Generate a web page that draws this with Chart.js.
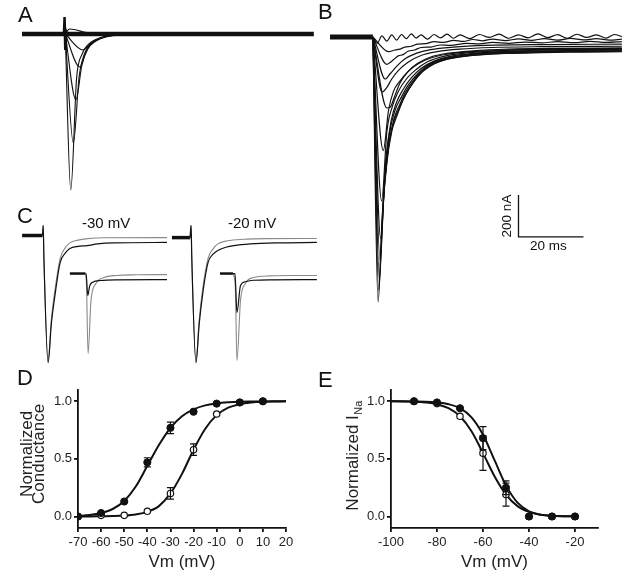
<!DOCTYPE html>
<html>
<head>
<meta charset="utf-8">
<script src="https://cdn.jsdelivr.net/npm/chart.js@4.4.1/dist/chart.umd.min.js"></script>
<style>
  body { margin: 0; background: #fff; }
  #fig { position: relative; width: 629px; height: 580px; overflow: hidden;
         font-family: "Liberation Sans", Arial, sans-serif; color: #111; }
  #fig canvas { position: absolute; }
  .tag { position: absolute; font-size: 22px; line-height: 22px; }
  .note { position: absolute; font-size: 15px; line-height: 15px; white-space: nowrap; }
  .bar { position: absolute; font-size: 13.5px; line-height: 14px; white-space: nowrap; }
</style>
</head>
<body>
<div id="fig">
  <canvas id="chartA" width="292" height="190" style="left:22px;top:8px"></canvas>
  <canvas id="chartB" width="299" height="310" style="left:330px;top:0px"></canvas>
  <canvas id="chartC" width="325" height="145" style="left:0px;top:225px"></canvas>
  <canvas id="chartD" width="310" height="200" style="left:0px;top:380px"></canvas>
  <canvas id="chartE" width="319" height="200" style="left:310px;top:380px"></canvas>

  <div class="tag" style="left:18px;top:4px">A</div>
  <div class="tag" style="left:318px;top:1px">B</div>
  <div class="tag" style="left:17px;top:205px">C</div>
  <div class="tag" style="left:17px;top:367px">D</div>
  <div class="tag" style="left:318px;top:369px">E</div>

  <div class="note" style="left:82px;top:215px">-30 mV</div>
  <div class="note" style="left:228px;top:215px">-20 mV</div>

  <div class="bar" style="left:482px;top:209px;width:50px;text-align:center;transform:rotate(-90deg)">200 nA</div>
  <div class="bar" style="left:530px;top:239px">20 ms</div>
</div>

<script>
// ---- A: current traces (ms, nA) ----
const aBaseline = [[0, 0], [89.8, 0]];
const aArtifact = [[12.9, 0], [13.1, 81], [13.3, -70], [13.5, 15], [13.8, 0]];
const aTraces = [
    [[13.3, 0], [15.0, -743], [16.8, -210], [18.5, -95], [20.5, -48], [24, -18], [30, -4], [40, 0]],
    [[13.3, 0], [15.8, -519], [17.6, -200], [19.2, -95], [21.2, -45], [25, -15], [31, -3], [40, 0]],
    [[13.3, 0], [16.6, -314], [18.4, -150], [20.2, -72], [22.5, -36], [26, -12], [32, -2], [40, 0]],
    [[13.3, 0], [17.8, -157], [19.6, -85], [21.6, -42], [24.5, -18], [29, -5], [36, 0]],
    [[13.3, 0], [18.8, -76], [20.8, -50], [23, -28], [27, -10], [33, 0]],
    [[13.3, 0], [14.6, 24], [16.5, 20], [19, 10], [22, 3], [27, 0]]
];

// ---- B: current traces (ms, nA) ----
const bBaseline = [[0, 0], [13.2, 0]];
const bTraces = [
    [[13.2, 0], [14.8, -1262], [16, -880], [17.5, -600], [19, -450], [20.6, -375], [22.5, -300], [24.6, -240], [27.7, -175], [31, -135], [35, -110], [40, -95], [47, -84], [55, -78], [65, -74], [78, -72], [89.8, -70]],
    [[13.2, 0], [15.0, -1205], [16.2, -820], [17.7, -560], [19.3, -420], [21, -350], [23, -280], [25.5, -220], [28.5, -165], [32, -128], [36, -105], [42, -90], [50, -80], [60, -74], [75, -70], [89.8, -68]],
    [[13.2, 0], [15.2, -1150], [16.5, -760], [18, -520], [19.7, -390], [21.5, -320], [23.5, -255], [26, -200], [29, -150], [33, -115], [38, -95], [45, -82], [55, -74], [70, -68], [89.8, -66]],
    [[13.2, 0], [15.4, -1060], [16.8, -680], [18.3, -460], [20, -350], [22, -285], [24, -230], [27, -175], [30, -135], [34, -108], [40, -88], [48, -76], [60, -68], [75, -64], [89.8, -62]],
    [[13.2, 0], [15.6, -960], [17.2, -580], [18.8, -400], [20.5, -310], [22.5, -250], [25, -195], [28, -150], [32, -115], [37, -92], [44, -78], [55, -68], [70, -62], [89.8, -60]],
    [[13.2, 0], [15.9, -780], [17.5, -450], [19.2, -330], [21, -260], [23.5, -200], [26.5, -155], [30, -118], [35, -92], [42, -76], [52, -66], [68, -60], [89.8, -57]],
    [[13.2, 0], [16.4, -540], [18, -350], [19.5, -260], [21.5, -210], [24, -165], [27, -128], [31, -100], [36, -82], [44, -70], [55, -62], [70, -57], [89.8, -55]],
    [[13.2, 0], [17.5, -338], [18.5, -335], [19.7, -290], [21.5, -220], [24, -165], [27, -125], [31, -95], [36, -78], [44, -66], [55, -58], [70, -54], [89.8, -52]],
    [[13.2, 0], [16, -262], [17.5, -240], [19, -200], [21, -160], [24, -120], [28, -88], [33, -70], [40, -58], [50, -50], [65, -46], [89.8, -44]],
    [[13.2, 0], [17, -200], [18.5, -175], [20.5, -140], [23, -105], [26.5, -78], [31, -60], [38, -48], [48, -40], [65, -36], [89.8, -34]],
    [[13.2, 0], [17.5, -130], [19, -115], [21, -90], [22.5, -84], [24, -68], [26, -62], [28, -50], [31, -48], [34, -38], [37, -40], [42, -30], [46, -33], [50, -26], [55, -30], [60, -24], [65, -28], [70, -22], [75, -27], [80, -21], [85, -26], [89.8, -22]],
    [[13.2, 0], [18, -70], [20, -62], [21.5, -58], [23, -48], [25, -44], [27, -34], [29.5, -32], [32, -22], [35, -26], [38, -16], [41, -21], [44, -12], [47, -18], [50, -10], [54, -17], [58, -9], [62, -16], [66, -8], [70, -15], [74, -7], [78, -14], [82, -8], [86, -15], [89.8, -10]],
    [[13.2, 0], [14.5, -30], [16, 5], [17.5, -20], [19, 10], [20.5, -15], [22, 12], [23.5, -8], [25, 15], [26.5, -5], [28, 10], [30, -10], [32, 12], [34, -4], [36, 14], [38, -6], [40, 10], [43, -8], [46, 12], [49, -2], [52, 14], [55, -6], [58, 10], [61, -4], [64, 15], [67, -3], [70, 11], [73, -6], [76, 13], [79, -2], [82, 10], [85, -5], [87.5, 12], [89.8, 2]]
];
// scale bar: 20 ms x 200 nA, corner at (58 ms, -952 nA)
const barMs = 20, barNa = 200, barCorner = [58, -952];

// ---- C: superimposed traces at -30 and -20 mV (ms, nA) ----
const cBaselines = [
    [[6.8, 0], [13.1, 0]],
    [[52.9, -10], [58.5, -10]]
];
const cInsetBaselines = [
    [[21.5, -181], [26.3, -181]],
    [[67.7, -181], [71.7, -181]]
];
const cBlack = [
    [[13.1, 0], [13.3, 48], [13.5, -100], [14.8, -605], [15.8, -420], [16.9, -286], [18.5, -129], [20, -85], [21.5, -62], [24, -52], [26.8, -48], [30, -40], [35, -35], [51.4, -33]],
    [[58.5, -10], [58.8, 48], [59.0, -100], [60.3, -605], [61.3, -420], [62.5, -262], [64, -129], [65.5, -90], [67, -71], [69.5, -56], [72, -48], [77, -40], [85, -35], [97.5, -33]],
    [[26.3, -181], [26.5, -181], [27.0, -286], [27.6, -240], [28.5, -222], [31, -214], [36, -211], [51.4, -210]],
    [[71.7, -181], [72.3, -181], [72.9, -367], [74, -238], [75.5, -220], [78, -213], [84, -211], [97.5, -210]]
];
const cGray = [
    [[13.1, 0], [13.3, 48], [13.5, -100], [14.8, -600], [15.8, -400], [16.9, -260], [18.5, -110], [20, -60], [21.5, -35], [24, -22], [27, -15], [32, -11], [51.4, -10]],
    [[58.5, -10], [58.8, 48], [59.0, -100], [60.3, -600], [61.3, -400], [62.5, -240], [64, -110], [65.5, -65], [67, -40], [70, -25], [75, -18], [82, -15], [97.5, -14]],
    [[26.3, -181], [26.6, -230], [27.1, -562], [28, -310], [29.5, -228], [32, -200], [36, -190], [42, -187], [51.4, -186]],
    [[71.7, -181], [72.4, -240], [72.9, -595], [74, -310], [75.5, -229], [78, -200], [83, -192], [90, -190], [97.5, -190]]
];

// ---- D: conductance-voltage ----
const dVm = [-70, -60, -50, -40, -30, -20, -10, 0, 10];
const dFilled = [0.0, 0.03, 0.13, 0.47, 0.77, 0.91, 0.98, 0.99, 1.0];
const dFilledErr = [0, 0.01, 0.03, 0.04, 0.05, 0.02, 0.01, 0.01, 0.01];
const dOpen = [0.0, 0.01, 0.01, 0.045, 0.2, 0.58, 0.89, 0.99, 1.0];
const dOpenErr = [0, 0, 0, 0.01, 0.05, 0.05, 0.03, 0.01, 0.01];
const dFitVm = [-70, -65, -60, -55, -50, -45, -40, -35, -30, -25, -20, -15, -10, -5, 0, 5, 10, 15, 20];
const dFitFilled = [0.005, 0.012, 0.03, 0.065, 0.135, 0.26, 0.44, 0.62, 0.77, 0.87, 0.93, 0.965, 0.982, 0.991, 0.996, 0.998, 0.999, 1.0, 1.0];
const dFitOpen = [0.0, 0.0, 0.002, 0.004, 0.008, 0.018, 0.04, 0.09, 0.2, 0.37, 0.58, 0.76, 0.88, 0.945, 0.975, 0.99, 0.996, 0.998, 1.0];
const dXTicks = [-70, -60, -50, -40, -30, -20, -10, 0, 10, 20];

// ---- E: steady-state inactivation ----
const eVm = [-90, -80, -70, -60, -50, -40, -30, -20];
const eFilled = [1.0, 0.99, 0.94, 0.68, 0.25, 0.0, 0.0, 0.0];
const eFilledErr = [0, 0.01, 0.02, 0.1, 0.06, 0, 0, 0];
const eOpen = [1.0, 0.98, 0.87, 0.55, 0.19, 0.0, 0.0, 0.0];
const eOpenErr = [0, 0.01, 0.02, 0.15, 0.1, 0, 0, 0];
const eFitVm = [-100, -95, -90, -85, -80, -75, -70, -65, -60, -55, -50, -45, -40, -35, -30, -25, -20];
const eFitFilled = [1.0, 1.0, 0.999, 0.997, 0.99, 0.975, 0.94, 0.86, 0.71, 0.49, 0.27, 0.12, 0.045, 0.016, 0.006, 0.002, 0.001];
const eFitOpen = [1.0, 0.999, 0.997, 0.99, 0.975, 0.94, 0.87, 0.74, 0.55, 0.35, 0.19, 0.09, 0.04, 0.015, 0.006, 0.002, 0.001];
const eXTicks = [-100, -80, -60, -40, -20];

const yTicks = [0, 0.5, 1.0];

Chart.defaults.font.family = '"Liberation Sans", Arial, sans-serif';
Chart.defaults.color = '#222';

function toXY(pairs) {
    return pairs.map(p => ({ x: p[0], y: p[1] }));
}

function trace(pairs, color, width) {
    return {
        data: toXY(pairs),
        borderColor: color,
        borderWidth: width,
        pointRadius: 0,
        fill: false,
        cubicInterpolationMode: 'monotone'
    };
}

// trace panels have no visible axes
function traceChart(id, datasets, xMax, yMin, yMax) {
    return new Chart(document.getElementById(id), {
        type: 'line',
        data: { datasets: datasets },
        options: {
            responsive: false,
            animation: false,
            layout: { padding: 0 },
            plugins: { legend: { display: false }, tooltip: { enabled: false } },
            scales: {
                x: { type: 'linear', display: false, min: 0, max: xMax },
                y: { display: false, min: yMin, max: yMax }
            }
        }
    });
}

// Panel A
const aSets = aTraces.map(t => trace(t, '#111', 1.1));
aSets.push(trace(aBaseline, '#111', 4.5));
aSets.push(Object.assign(trace(aArtifact, '#111', 2.5), { cubicInterpolationMode: 'default', tension: 0 }));
traceChart('chartA', aSets, 89.85, -781, 124);

// Panel B
const bSets = bTraces.map(t => trace(t, '#111', 1.2));
bSets.push(trace(bBaseline, '#111', 5));
bSets.push({
    data: [
        { x: barCorner[0], y: barCorner[1] + barNa },
        { x: barCorner[0], y: barCorner[1] },
        { x: barCorner[0] + barMs, y: barCorner[1] }
    ],
    borderColor: '#111',
    borderWidth: 1.3,
    pointRadius: 0,
    tension: 0
});
traceChart('chartB', bSets, 92, -1300, 176.2);

// Panel C
const cSets = [];
cBlack.forEach(t => cSets.push(trace(t, '#111', 1.2)));
cGray.forEach(t => cSets.push(trace(t, '#8a8a8a', 1.1)));
cBaselines.forEach(t => cSets.push(trace(t, '#111', 3.5)));
cInsetBaselines.forEach(t => cSets.push(trace(t, '#111', 2.5)));
traceChart('chartC', cSets, 100, -640, 50);

// error bars for D and E, drawn through the chart scales
const errorBarPlugin = {
    id: 'errorBars',
    afterDatasetsDraw(chart) {
        const ctx = chart.ctx, xs = chart.scales.x, ys = chart.scales.y;
        ctx.save();
        ctx.strokeStyle = '#111';
        ctx.lineWidth = 1.2;
        chart.data.datasets.forEach(ds => {
            if (!ds.errorBars) return;
            ds.data.forEach((p, i) => {
                const e = ds.errorBars[i];
                if (!e) return;
                const px = xs.getPixelForValue(p.x);
                const top = ys.getPixelForValue(p.y + e);
                const bot = ys.getPixelForValue(p.y - e);
                if ((bot - top) / 2 < 4.5) return; // hidden by the marker
                ctx.beginPath();
                ctx.moveTo(px, top); ctx.lineTo(px, bot);
                ctx.moveTo(px - 3.5, top); ctx.lineTo(px + 3.5, top);
                ctx.moveTo(px - 3.5, bot); ctx.lineTo(px + 3.5, bot);
                ctx.stroke();
            });
        });
        ctx.restore();
    }
};

// rotated y-axis title with optional subscript
const yTitlePlugin = {
    id: 'yTitle',
    afterDraw(chart, args, opts) {
        const ctx = chart.ctx, area = chart.chartArea;
        const cy = (area.top + area.bottom) / 2 + opts.dy;
        ctx.save();
        ctx.fillStyle = '#222';
        ctx.textBaseline = 'middle';
        opts.lines.forEach((line, i) => {
            const cx = area.left - opts.offsets[i];
            ctx.save();
            ctx.translate(cx, cy);
            ctx.rotate(-Math.PI / 2);
            ctx.font = '17px "Liberation Sans", Arial, sans-serif';
            const w1 = ctx.measureText(line).width;
            let w2 = 0;
            if (opts.sub) {
                ctx.font = '11px "Liberation Sans", Arial, sans-serif';
                w2 = ctx.measureText(opts.sub).width;
            }
            const start = -(w1 + w2) / 2;
            ctx.font = '17px "Liberation Sans", Arial, sans-serif';
            ctx.textAlign = 'left';
            ctx.fillText(line, start, 0);
            if (opts.sub) {
                ctx.font = '11px "Liberation Sans", Arial, sans-serif';
                ctx.fillText(opts.sub, start + w1 + 0.5, 5);
            }
            ctx.restore();
        });
        ctx.restore();
    }
};

function curveChart(id, cfg) {
    const pts = (xs, ys) => xs.map((x, i) => ({ x: x, y: ys[i] }));
    return new Chart(document.getElementById(id), {
        type: 'line',
        data: {
            datasets: [
                {
                    data: pts(cfg.vm, cfg.filled), errorBars: cfg.filledErr,
                    showLine: false, pointRadius: 3.6,
                    pointBackgroundColor: '#111', pointBorderColor: '#111', pointBorderWidth: 1
                },
                {
                    data: pts(cfg.vm, cfg.open), errorBars: cfg.openErr,
                    showLine: false, pointRadius: 3.2,
                    pointBackgroundColor: '#fff', pointBorderColor: '#111', pointBorderWidth: 1.2
                },
                {
                    data: pts(cfg.fitVm, cfg.fitFilled), pointRadius: 0,
                    borderColor: '#111', borderWidth: 2, cubicInterpolationMode: 'monotone'
                },
                {
                    data: pts(cfg.fitVm, cfg.fitOpen), pointRadius: 0,
                    borderColor: '#111', borderWidth: 2, cubicInterpolationMode: 'monotone'
                }
            ]
        },
        options: {
            responsive: false,
            animation: false,
            layout: { padding: { top: 9, right: cfg.padRight, left: 0, bottom: 0 } },
            plugins: {
                legend: { display: false },
                tooltip: { enabled: false },
                yTitle: cfg.yTitle
            },
            scales: {
                x: {
                    type: 'linear', min: cfg.xMin, max: cfg.xMax,
                    afterBuildTicks: s => { s.ticks = cfg.xTicks.map(v => ({ value: v })); },
                    afterFit: s => { s.height = 52; },
                    ticks: { autoSkip: false, maxRotation: 0, minRotation: 0, padding: 3, color: '#222', font: { size: 13 } },
                    grid: { drawOnChartArea: false, drawTicks: true, tickLength: 4, color: '#111', lineWidth: 1.8 },
                    border: { display: true, color: '#111', width: 1.8 },
                    title: { display: true, text: 'Vm (mV)', color: '#222', font: { size: 17 }, padding: { top: 0, bottom: 7 } }
                },
                y: {
                    min: -0.1, max: 1.1,
                    afterBuildTicks: s => { s.ticks = yTicks.map(v => ({ value: v })); },
                    afterFit: s => { s.width = cfg.yWidth; },
                    ticks: { padding: 2, color: '#222', font: { size: 13 }, callback: v => v.toFixed(1) },
                    grid: { drawOnChartArea: false, drawTicks: true, tickLength: 4, color: '#111', lineWidth: 1.8 },
                    border: { display: true, color: '#111', width: 1.8 }
                }
            }
        },
        plugins: [errorBarPlugin, yTitlePlugin]
    });
}

curveChart('chartD', {
    vm: dVm, filled: dFilled, filledErr: dFilledErr, open: dOpen, openErr: dOpenErr,
    fitVm: dFitVm, fitFilled: dFitFilled, fitOpen: dFitOpen,
    xMin: -70, xMax: 20, xTicks: dXTicks, padRight: 24, yWidth: 78,
    yTitle: { lines: ['Normalized', 'Conductance'], offsets: [51, 39], dy: -5 }
});

curveChart('chartE', {
    vm: eVm, filled: eFilled, filledErr: eFilledErr, open: eOpen, openErr: eOpenErr,
    fitVm: eFitVm, fitFilled: eFitFilled, fitOpen: eFitOpen,
    xMin: -100, xMax: -10, xTicks: eXTicks, padRight: 31, yWidth: 81,
    yTitle: { lines: ['Normalized I'], offsets: [37.5], dy: -3, sub: 'Na' }
});
</script>
</body>
</html>
